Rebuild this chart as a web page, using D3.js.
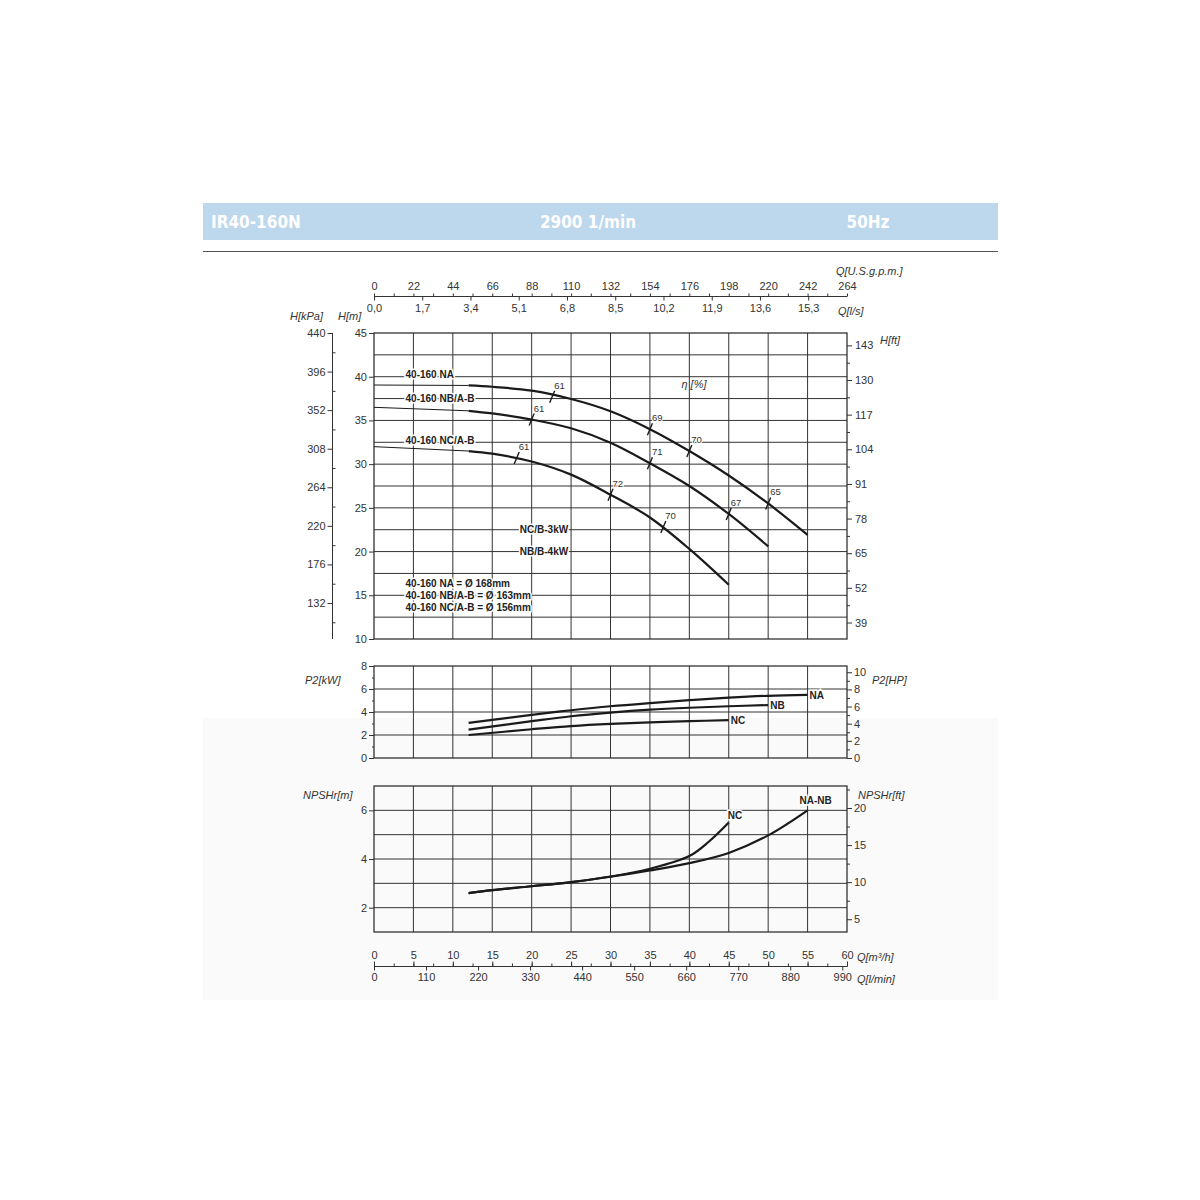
<!DOCTYPE html>
<html>
<head>
<meta charset="utf-8">
<script src="https://cdn.jsdelivr.net/npm/d3@7"></script>
<style>
body { margin: 0; background: #fff; }
svg text { font-family: "Liberation Sans", Arial, sans-serif; fill: #333; }
.tick text { font-size: 11px; fill: #333; }
.unit { font-size: 11px; font-style: italic; }
.lbl { font-size: 10px; font-weight: bold; fill: #222; paint-order: stroke; stroke: #fff; stroke-width: 3px; }
.eta { font-size: 9.5px; fill: #333; paint-order: stroke; stroke: #fff; stroke-width: 2px; }
</style>
</head>
<body>
<div id="chart"></div>
<script>
// ---------------------------//
//       DATA                 //
// ---------------------------//
let qTicks = [0, 5, 10, 15, 20, 25, 30, 35, 40, 45, 50, 55, 60];
let gpmTicks = [0, 22, 44, 66, 88, 110, 132, 154, 176, 198, 220, 242, 264];
let lsTicks = [0, 1.7, 3.4, 5.1, 6.8, 8.5, 10.2, 11.9, 13.6, 15.3];
let lminTicks = [0, 110, 220, 330, 440, 550, 660, 770, 880, 990];
let kPaTicks = [440, 396, 352, 308, 264, 220, 176, 132];
let hmTicks = [45, 40, 35, 30, 25, 20, 15, 10];
let hftTicks = [143, 130, 117, 104, 91, 78, 65, 52, 39];
let kwTicks = [0, 2, 4, 6, 8];
let hpTicks = [0, 2, 4, 6, 8, 10];
let npshTicks = [2, 4, 6];
let npshFtTicks = [5, 10, 15, 20];

// H-Q curves (thin part 0..12, thick part from 12)
let naThinQ = [0, 12], naThinH = [39.05, 39.0];
let nbThinQ = [0, 12], nbThinH = [36.5, 36.1];
let ncThinQ = [0, 12], ncThinH = [32.0, 31.5];
let naQ = [12, 15, 20, 25, 30, 35, 40, 45, 50, 55];
let naH = [39.0, 38.85, 38.4, 37.45, 36.05, 34.0, 31.5, 28.7, 25.5, 21.9];
let nbQ = [12, 15, 20, 25, 30, 35, 40, 45, 50];
let nbH = [36.1, 35.8, 35.1, 34.1, 32.45, 30.1, 27.5, 24.3, 20.6];
let ncQ = [12, 15, 20, 25, 30, 35, 40, 45];
let ncH = [31.5, 31.2, 30.3, 28.8, 26.5, 23.9, 20.3, 16.2];

// efficiency marks [Q, H, eta]
let etaNA = [[22.6, 37.7, 61], [35, 34.0, 69], [40, 31.5, 70], [50, 25.5, 65]];
let etaNB = [[20, 35.1, 61], [35, 30.1, 71], [45, 24.3, 67]];
let etaNC = [[18.1, 30.7, 61], [30, 26.5, 72], [36.7, 22.8, 70]];

// P2 curves
let naPQ = [12, 20, 25, 30, 35, 40, 45, 50, 55];
let naP = [3.05, 3.75, 4.15, 4.5, 4.78, 5.03, 5.25, 5.41, 5.49];
let nbPQ = [12, 20, 25, 30, 35, 40, 45, 50];
let nbP = [2.47, 3.2, 3.63, 3.95, 4.2, 4.37, 4.5, 4.6];
let ncPQ = [12, 20, 25, 30, 35, 40, 45];
let ncP = [2.0, 2.5, 2.78, 2.97, 3.1, 3.2, 3.3];

// NPSHr curves
let nabNQ = [12, 15, 20, 25, 30, 35, 40, 45, 50, 55];
let nabN = [2.6, 2.72, 2.88, 3.05, 3.27, 3.53, 3.83, 4.25, 4.97, 6.0];
let ncNQ = [12, 15, 20, 25, 30, 35, 40, 42.5, 45];
let ncN = [2.6, 2.72, 2.88, 3.05, 3.28, 3.6, 4.12, 4.72, 5.5];

// ---------------------------//
//       SCALES               //
// ---------------------------//
let x = d3.scaleLinear().domain([0, 60]).range([374, 847]);
let yH = d3.scaleLinear().domain([10, 45]).range([639, 333]);
let yKpa = d3.scaleLinear().domain([132, 440]).range([603, 333]);
let yP = d3.scaleLinear().domain([0, 8]).range([758, 666]);
let yN = d3.scaleLinear().domain([1, 7]).range([932, 786]);

let svg = d3.select("#chart")
    .append("svg")
    .attr("width", 1200)
    .attr("height", 1200);

// faint background panel at bottom
svg.append("rect")
    .attr("x", 203).attr("y", 718).attr("width", 795).attr("height", 282)
    .attr("fill", "#fafafa");

// ---------------------------//
//       HEADER               //
// ---------------------------//
svg.append("rect")
    .attr("x", 203).attr("y", 203).attr("width", 795).attr("height", 37)
    .attr("fill", "#bdd7ec");
let headFont = "'Liberation Sans Narrow', 'DejaVu Sans Condensed', 'Liberation Sans', sans-serif";
[["IR40-160N", 211, "start"], ["2900 1/min", 588, "middle"], ["50Hz", 868, "middle"]].forEach(function (h) {
    svg.append("text")
        .attr("x", h[1]).attr("y", 228)
        .attr("text-anchor", h[2])
        .style("font-family", headFont)
        .style("font-size", "17px")
        .style("font-weight", "bold")
        .style("fill", "#fff")
        .text(h[0]);
});
svg.append("line")
    .attr("x1", 203).attr("x2", 998).attr("y1", 251.5).attr("y2", 251.5)
    .attr("stroke", "#555").attr("stroke-width", 1);

// ---------------------------//
//       GRIDS / FRAMES       //
// ---------------------------//
function panel(yScale, hLines) {
    let g = svg.append("g");
    let y0 = yScale.range()[0], y1 = yScale.range()[1];
    g.selectAll(".v").data(qTicks.slice(1, -1)).enter().append("line")
        .attr("x1", d => x(d)).attr("x2", d => x(d))
        .attr("y1", y0).attr("y2", y1)
        .attr("stroke", "#333").attr("stroke-width", 1);
    g.selectAll(".h").data(hLines).enter().append("line")
        .attr("x1", x(0)).attr("x2", x(60))
        .attr("y1", d => yScale(d)).attr("y2", d => yScale(d))
        .attr("stroke", "#333").attr("stroke-width", 1);
    g.append("rect")
        .attr("x", x(0)).attr("y", y1)
        .attr("width", x(60) - x(0)).attr("height", y0 - y1)
        .attr("fill", "none").attr("stroke", "#222").attr("stroke-width", 1.2);
}
panel(yH, d3.range(12.5, 45, 2.5));
panel(yP, [2, 4, 6]);
panel(yN, [2, 3, 4, 5, 6]);

// ---------------------------//
//       AXES                 //
// ---------------------------//
function styleAxis(g) {
    g.select(".domain").remove();
    g.selectAll(".tick line").attr("stroke", "#333");
}
let intFmt = d3.format("d");

// top: U.S.g.p.m. and l/s
let gpmScale = d3.scaleLinear().domain([0, 264]).range([374, 847]);
let lsScale = d3.scaleLinear().domain([0, 60 / 3.6]).range([374, 847]);
svg.append("line").attr("x1", 374).attr("x2", 847).attr("y1", 296.5).attr("y2", 296.5)
    .attr("stroke", "#333");
svg.append("g").attr("transform", "translate(0,296.5)")
    .call(d3.axisTop(gpmScale).tickValues(d3.range(0, 265, 11)).tickSize(3).tickFormat(""))
    .call(styleAxis);
svg.append("g").attr("transform", "translate(0,296.5)")
    .call(d3.axisTop(gpmScale).tickValues(gpmTicks).tickSize(0).tickPadding(7).tickFormat(intFmt))
    .call(styleAxis);
svg.append("g").attr("transform", "translate(0,296.5)")
    .call(d3.axisBottom(lsScale).tickValues(lsTicks).tickSize(4).tickPadding(4)
        .tickFormat(d => d3.format(".1f")(d).replace(".", ",")))
    .call(styleAxis);
svg.append("text").attr("class", "unit").attr("x", 836).attr("y", 275).text("Q[U.S.g.p.m.]");
svg.append("text").attr("class", "unit").attr("x", 838).attr("y", 315).text("Q[l/s]");

// bottom: m3/h and l/min
let lminScale = d3.scaleLinear().domain([0, 1000]).range([374, 847]);
svg.append("line").attr("x1", 374).attr("x2", 847).attr("y1", 966.5).attr("y2", 966.5)
    .attr("stroke", "#333");
svg.append("g").attr("transform", "translate(0,966.5)")
    .call(d3.axisTop(x).tickValues(d3.range(0, 61, 2.5)).tickSize(3).tickFormat(""))
    .call(styleAxis);
svg.append("g").attr("transform", "translate(0,966.5)")
    .call(d3.axisTop(x).tickValues(qTicks).tickSize(5).tickPadding(3).tickFormat(intFmt))
    .call(styleAxis);
svg.append("g").attr("transform", "translate(0,966.5)")
    .call(d3.axisBottom(lminScale).tickValues(lminTicks).tickSize(4).tickPadding(3).tickFormat(intFmt))
    .call(styleAxis);
svg.append("text").attr("class", "unit").attr("x", 857).attr("y", 961).text("Q[m³/h]");
svg.append("text").attr("class", "unit").attr("x", 857).attr("y", 983).text("Q[l/min]");

// left: kPa
svg.append("line").attr("x1", 332.5).attr("x2", 332.5).attr("y1", 333).attr("y2", 639)
    .attr("stroke", "#333");
svg.append("g").attr("transform", "translate(332.5,0)")
    .call(d3.axisLeft(yKpa).tickValues(kPaTicks).tickSize(5).tickPadding(2).tickFormat(intFmt))
    .call(styleAxis);
svg.append("g").attr("transform", "translate(332.5,0)")
    .call(d3.axisRight(yKpa).tickValues(d3.range(110, 441, 22).filter(d => kPaTicks.indexOf(d) < 0))
        .tickSize(3).tickFormat(""))
    .call(styleAxis);
svg.append("text").attr("class", "unit").attr("x", 290).attr("y", 320).text("H[kPa]");

// left: H[m]
svg.append("g").attr("transform", "translate(374,0)")
    .call(d3.axisLeft(yH).tickValues(hmTicks).tickSize(5).tickPadding(2).tickFormat(intFmt))
    .call(styleAxis);
svg.append("text").attr("class", "unit").attr("x", 338).attr("y", 320).text("H[m]");

// right: H[ft]
let yHft = d3.scaleLinear().domain([10 / 0.3048, 45 / 0.3048]).range([639, 333]);
svg.append("g").attr("transform", "translate(847,0)")
    .call(d3.axisRight(yHft).tickValues(hftTicks).tickSize(5).tickPadding(3).tickFormat(intFmt))
    .call(styleAxis);
svg.append("g").attr("transform", "translate(847,0)")
    .call(d3.axisRight(yHft).tickValues(d3.range(45.5, 145, 13)).tickSize(3).tickFormat(""))
    .call(styleAxis);
svg.append("text").attr("class", "unit").attr("x", 880).attr("y", 344).text("H[ft]");

// P2 axes
svg.append("g").attr("transform", "translate(374,0)")
    .call(d3.axisLeft(yP).tickValues(kwTicks).tickSize(5).tickPadding(2).tickFormat(intFmt))
    .call(styleAxis);
svg.append("g").attr("transform", "translate(374,0)")
    .call(d3.axisLeft(yP).tickValues([1, 3, 5, 7]).tickSize(2).tickFormat(""))
    .call(styleAxis);
svg.append("text").attr("class", "unit").attr("x", 305).attr("y", 684).text("P2[kW]");
let yHp = d3.scaleLinear().domain([0, 8 / 0.7457]).range([758, 666]);
svg.append("g").attr("transform", "translate(847,0)")
    .call(d3.axisRight(yHp).tickValues(hpTicks).tickSize(5).tickPadding(2).tickFormat(intFmt))
    .call(styleAxis);
svg.append("g").attr("transform", "translate(847,0)")
    .call(d3.axisRight(yHp).tickValues([1, 3, 5, 7, 9]).tickSize(3).tickFormat(""))
    .call(styleAxis);
svg.append("text").attr("class", "unit").attr("x", 872).attr("y", 684).text("P2[HP]");

// NPSH axes
svg.append("g").attr("transform", "translate(374,0)")
    .call(d3.axisLeft(yN).tickValues(npshTicks).tickSize(5).tickPadding(2).tickFormat(intFmt))
    .call(styleAxis);
svg.append("text").attr("class", "unit").attr("x", 303).attr("y", 799).text("NPSHr[m]");
let yNft = d3.scaleLinear().domain([1 / 0.3048, 7 / 0.3048]).range([932, 786]);
svg.append("g").attr("transform", "translate(847,0)")
    .call(d3.axisRight(yNft).tickValues(npshFtTicks).tickSize(5).tickPadding(2).tickFormat(intFmt))
    .call(styleAxis);
svg.append("g").attr("transform", "translate(847,0)")
    .call(d3.axisRight(yNft).tickValues([7.5, 12.5, 17.5, 22.5]).tickSize(3).tickFormat(""))
    .call(styleAxis);
svg.append("text").attr("class", "unit").attr("x", 858).attr("y", 799).text("NPSHr[ft]");

// ---------------------------//
//       CURVES               //
// ---------------------------//
function drawCurve(qs, vs, yScale, w) {
    let line = d3.line()
        .x(d => x(d[0]))
        .y(d => yScale(d[1]))
        .curve(d3.curveCatmullRom.alpha(0.5));
    svg.append("path")
        .datum(d3.zip(qs, vs))
        .attr("d", line)
        .attr("fill", "none")
        .attr("stroke", "#1a1a1a")
        .attr("stroke-width", w);
}

// labels first (so curves sit on top of halos)
let labels = [
    ["40-160 NA", 4, 40, 1],
    ["40-160 NB/A-B", 4, 37.5, 3],
    ["40-160 NC/A-B", 4, 32.5, 2],
    ["NC/B-3kW", 18.5, 22.5, 3],
    ["NB/B-4kW", 18.5, 20, 3],
    ["40-160 NA = Ø 168mm", 4, 15, -8],
    ["40-160 NB/A-B = Ø 163mm", 4, 15, 4],
    ["40-160 NC/A-B = Ø 156mm", 4, 15, 16]
];
svg.selectAll(".lbl").data(labels).enter().append("text")
    .attr("class", "lbl")
    .attr("x", d => x(d[1]))
    .attr("y", d => yH(d[2]) + d[3])
    .text(d => d[0]);

svg.append("text").attr("class", "unit")
    .attr("x", x(39)).attr("y", yH(38.7))
    .text("η [%]");

drawCurve(naThinQ, naThinH, yH, 1);
drawCurve(nbThinQ, nbThinH, yH, 1);
drawCurve(ncThinQ, ncThinH, yH, 1);
drawCurve(naQ, naH, yH, 2.2);
drawCurve(nbQ, nbH, yH, 2.2);
drawCurve(ncQ, ncH, yH, 2.2);

// efficiency marks
let etaAll = etaNA.concat(etaNB, etaNC);
let em = svg.append("g");
em.selectAll("line").data(etaAll).enter().append("line")
    .attr("x1", d => x(d[0]) - 2.5).attr("y1", d => yH(d[1]) + 6)
    .attr("x2", d => x(d[0]) + 2.5).attr("y2", d => yH(d[1]) - 6)
    .attr("stroke", "#1a1a1a").attr("stroke-width", 1.4);
em.selectAll("text").data(etaAll).enter().append("text")
    .attr("class", "eta")
    .attr("x", d => x(d[0]) + 2)
    .attr("y", d => yH(d[1]) - 8)
    .text(d => d[2]);

// P2
drawCurve(naPQ, naP, yP, 2.2);
drawCurve(nbPQ, nbP, yP, 2.2);
drawCurve(ncPQ, ncP, yP, 2.2);
[["NA", naPQ, naP], ["NB", nbPQ, nbP], ["NC", ncPQ, ncP]].forEach(function (c) {
    let n = c[1].length - 1;
    svg.append("text").attr("class", "lbl")
        .attr("x", x(c[1][n]) + 2)
        .attr("y", yP(c[2][n]) + 4)
        .text(c[0]);
});

// NPSHr
drawCurve(nabNQ, nabN, yN, 2.2);
drawCurve(ncNQ, ncN, yN, 2.2);
svg.append("text").attr("class", "lbl")
    .attr("x", x(45) - 1).attr("y", yN(5.5) - 4)
    .text("NC");
svg.append("text").attr("class", "lbl")
    .attr("x", x(55) + 8).attr("y", yN(6) - 6)
    .attr("text-anchor", "middle")
    .text("NA-NB");
</script>
</body>
</html>
